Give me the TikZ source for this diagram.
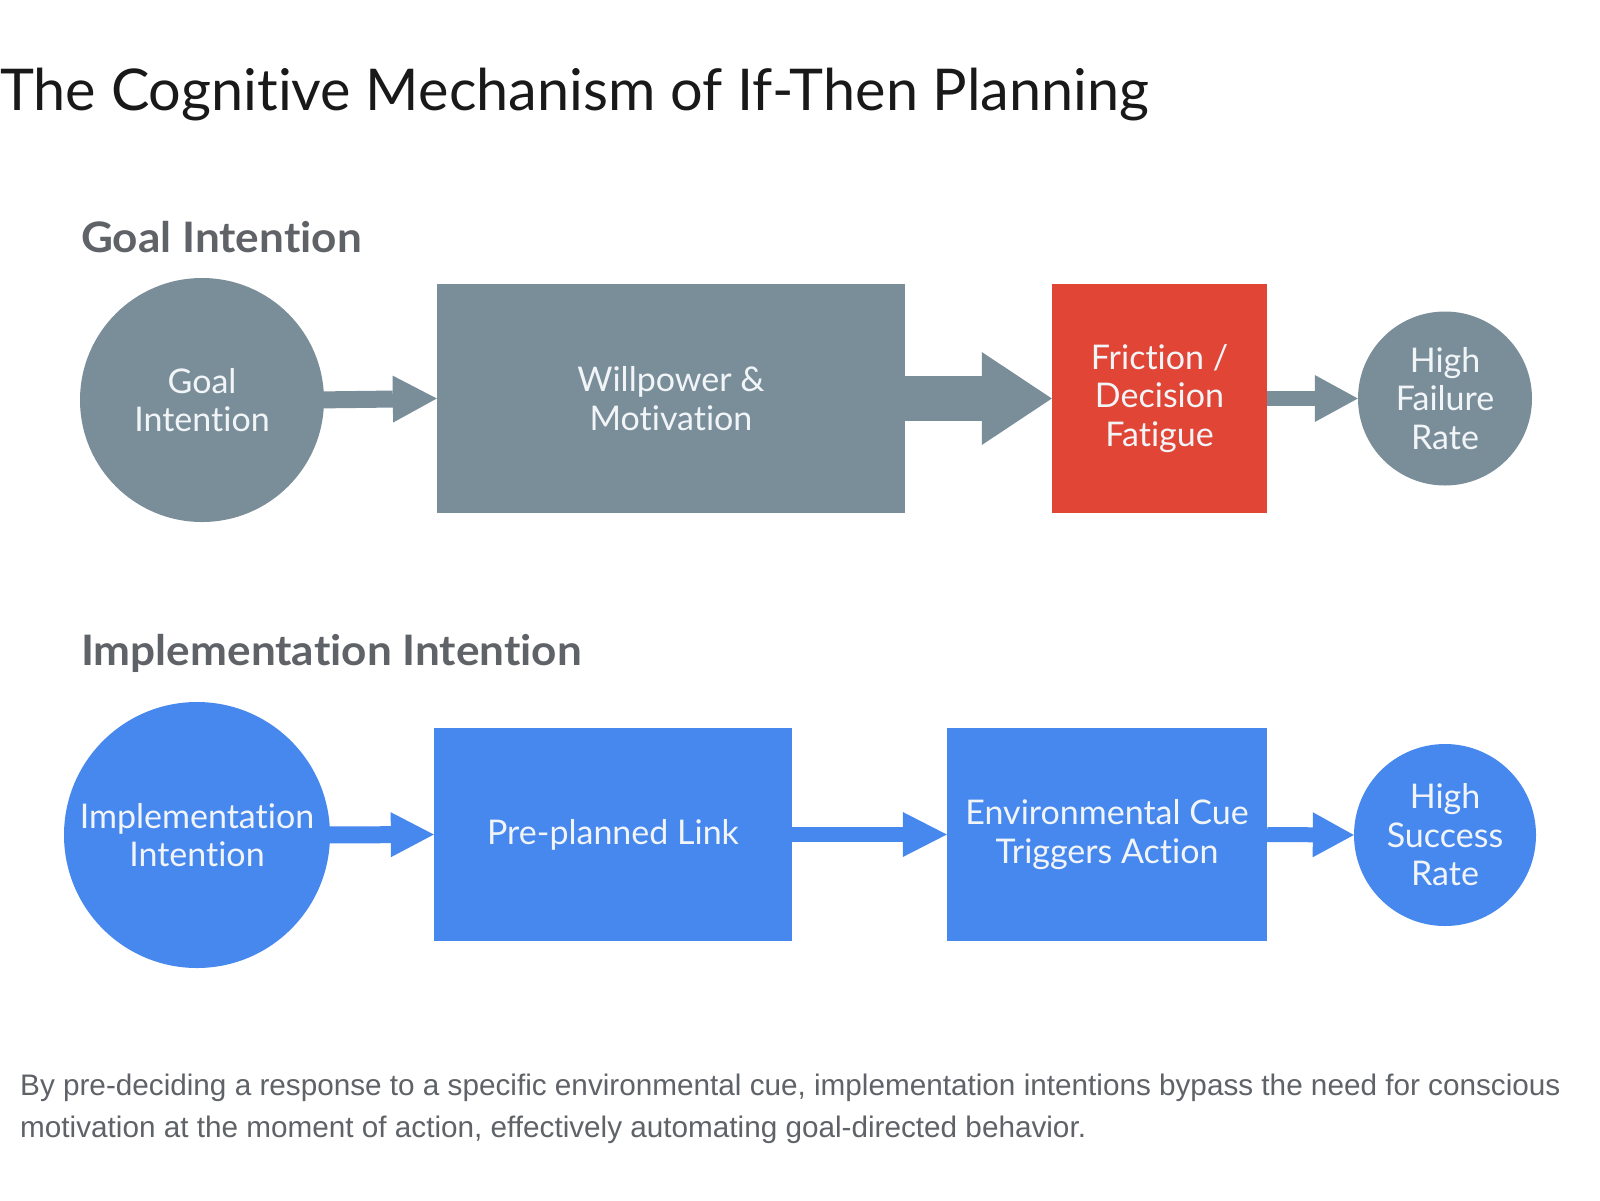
\documentclass[tikz,border=0pt]{standalone}
\usepackage{fontspec}
\setmainfont{Lato}[Ligatures=NoCommon]
\newfontfamily\headfont{Lato}[Ligatures=NoCommon, FakeStretch=1.05]
\newfontfamily\capfont{Liberation Sans}
\usetikzlibrary{arrows.meta}
\definecolor{slate}{HTML}{7A8E9A}
\definecolor{alertred}{HTML}{E04535}
\definecolor{gblue}{HTML}{4788EE}
\definecolor{headgray}{HTML}{5F6368}
\definecolor{captgray}{HTML}{5F6368}
\definecolor{softwhite}{HTML}{F2F5F8}
\tikzset{
  lbl/.style={text=softwhite, font=\fontsize{34}{38.5}\selectfont, align=center, inner sep=0pt},
  circ/.style={circle, inner sep=0pt, minimum size=#1},
  boxnode/.style={rectangle, inner sep=0pt},
  heading/.style={anchor=base west, inner sep=0pt, text=headgray, font=\headfont\fontsize{42}{48}\selectfont\bfseries},
}
\begin{document}
\begin{tikzpicture}[x=1pt,y=-1pt]
\useasboundingbox[fill=white] (0,0) rectangle (1600,1200);

% title
\node[anchor=base west, inner sep=0pt, text=black!90, font=\fontsize{57.6}{66}\selectfont] (title) at (0,110) {The Cognitive Mechanism of If-Then Planning};

% headings
\node[heading] (h1) at (81,252) {Goal Intention};
\node[heading] (h2) at (81,665) {Implementation Intention};

% top row
\node[circ=244pt, fill=slate, lbl] (g1) at (202,400) {Goal\\Intention};
\node[boxnode, fill=slate, lbl, minimum width=468pt, minimum height=229pt] (g2) at (671,398.5) {Willpower \&\\Motivation};
\node[boxnode, fill=alertred, lbl, minimum width=215pt, minimum height=229pt] (g3) at (1159.5,398.5) {Friction /\\Decision\\Fatigue};
\node[circ=174pt, fill=slate, lbl] (g4) at (1445,398.5) {High\\Failure\\Rate};

\draw[slate, line width=17pt, -{Triangle[length=44pt,width=47pt,line width=0pt]}] ([xshift=-10pt]g1.east) -- (g2.west);
\draw[slate, line width=45pt, -{Triangle[length=70pt,width=93pt,line width=0pt]}] (g2.east) -- (g3.west);
\draw[slate, line width=15pt, -{Triangle[length=43pt,width=47pt,line width=0pt]}] (g3.east) -- (g4.west);

% bottom row
\node[circ=266pt, fill=gblue, lbl] (b1) at (197,835) {Implementation\\Intention};
\node[boxnode, fill=gblue, lbl, minimum width=358pt, minimum height=213pt] (b2) at (613,834.5) {Pre-planned Link};
\node[boxnode, fill=gblue, lbl, minimum width=320pt, minimum height=213pt] (b3) at (1107,834.5) {Environmental Cue\\Triggers Action};
\node[circ=182pt, fill=gblue, lbl] (b4) at (1445,835) {High\\Success\\Rate};

\draw[gblue, line width=17pt, -{Triangle[length=43pt,width=45pt,line width=0pt]}] ([xshift=-10pt]b1.east) -- (b2.west);
\draw[gblue, line width=15pt, -{Triangle[length=44pt,width=45pt,line width=0pt]}] (b2.east) -- (b3.west);
\draw[gblue, line width=15pt, -{Triangle[length=41pt,width=45pt,line width=0pt]}] (b3.east) -- (b4.west);

% caption (base anchor = last line's baseline)
\node[anchor=base west, inner sep=0pt, text=captgray, align=left, font=\capfont\fontsize{29.7}{42}\selectfont] (cap) at (20,1137) {By pre-deciding a response to a specific environmental cue, implementation intentions bypass the need for conscious\\motivation at the moment of action, effectively automating goal-directed behavior.};
\end{tikzpicture}
\end{document}
